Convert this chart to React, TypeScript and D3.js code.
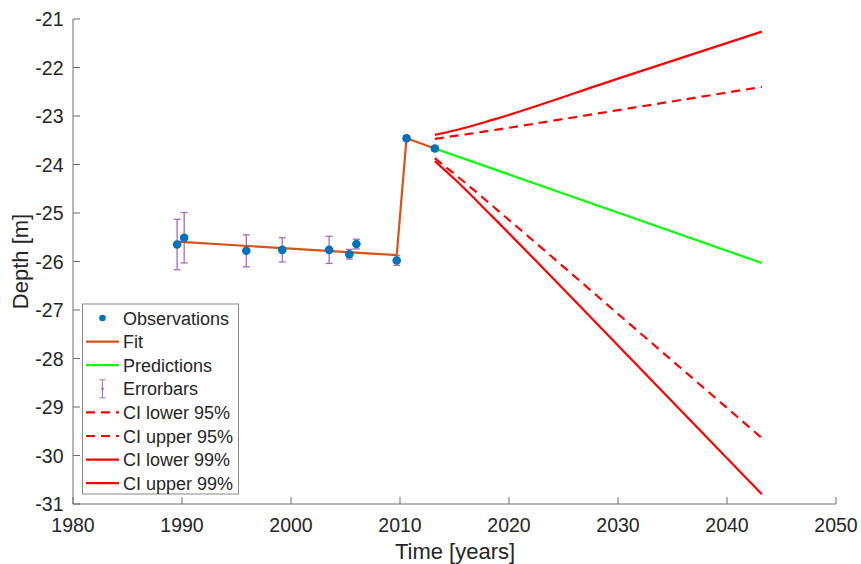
import React from "react";
import * as d3 from "d3";

const obsYears = [1989.55, 1990.2, 1995.9, 1999.2, 2003.5, 2005.35, 2006.0, 2009.7, 2010.6, 2013.2];
const obsDepth = [-25.65, -25.51, -25.78, -25.76, -25.76, -25.85, -25.64, -25.98, -23.46, -23.67];
const obsErr = [0.52, 0.52, 0.33, 0.25, 0.28, 0.1, 0.1, 0.1, 0.05, 0.05];

const fitYears = [1989.55, 2009.7, 2010.6, 2013.2];
const fitDepth = [-25.59, -25.87, -23.46, -23.67];

const predYears = [2013.2, 2043.2];
const predDepth = [-23.67, -26.03];

const ci95Years = [2013.2, 2016, 2019.2, 2030, 2043.2];
const ci95Lower = [-23.87, -24.38, -24.99, -27.08, -29.64];
const ci95Upper = [-23.47, -23.38, -23.27, -22.88, -22.4];

const ci99Years = [2013.2, 2015, 2018.5, 2030, 2043.2];
const ci99Lower = [-23.93, -24.3, -25.08, -27.73, -30.8];
const ci99Upper = [-23.39, -23.3, -23.08, -22.23, -21.26];

const xTicks = [1980, 1990, 2000, 2010, 2020, 2030, 2040, 2050];
const yTicks = [-31, -30, -29, -28, -27, -26, -25, -24, -23, -22, -21];

const legendLabels = [
  "Observations",
  "Fit",
  "Predictions",
  "Errorbars",
  "CI lower 95%",
  "CI upper 95%",
  "CI lower 99%",
  "CI upper 99%",
];

const W = 861;
const H = 564;
const L = 73, R = 836, T = 19, B = 504;
const FONT = "'Liberation Sans', Arial, Helvetica, sans-serif";
const TXT = "#262626";
const AX = "#6e6e6e";
const BLUE = "#0072BD";
const ORANGE = "#D95319";
const GREEN = "#00FF00";
const RED = "#FF0000";
const PURPLE = "#A86CC1";

export default function App() {
  const x = d3.scaleLinear().domain([1980, 2050]).range([L, R]);
  const y = d3.scaleLinear().domain([-31, -21]).range([B, T]);
  const line = d3
    .line<[number, number]>()
    .x((d) => x(d[0]))
    .y((d) => y(d[1]));
  const smooth = d3
    .line<[number, number]>()
    .x((d) => x(d[0]))
    .y((d) => y(d[1]))
    .curve(d3.curveMonotoneX);
  const zip = (a: number[], b: number[]) => a.map((v, i) => [v, b[i]] as [number, number]);

  const legX = 82.5, legY = 304, legW = 156, legH = 190;
  const rowY = (i: number) => 318 + i * 23.6;

  return (
    <svg
      width={W}
      height={H}
      style={{ position: "absolute", left: 0, top: 0, background: "#fff" }}
      fontFamily={FONT}
    >
      {/* axes */}
      <line x1={L} x2={L} y1={T} y2={B} stroke={AX} strokeWidth={1} />
      <line x1={L} x2={R} y1={B} y2={B} stroke={AX} strokeWidth={1} />
      {xTicks.map((t) => (
        <g key={"xt" + t}>
          <line x1={x(t)} x2={x(t)} y1={B} y2={B - 7} stroke={AX} />
          <text x={x(t)} y={532} fontSize={19.5} textAnchor="middle" fill={TXT}>
            {t}
          </text>
        </g>
      ))}
      {yTicks.map((t) => (
        <g key={"yt" + t}>
          <line x1={L} x2={L + 7} y1={y(t)} y2={y(t)} stroke={AX} />
          <text x={63.5} y={y(t) + 7} fontSize={19.5} textAnchor="end" fill={TXT}>
            {t}
          </text>
        </g>
      ))}
      <text x={455} y={559} fontSize={22} textAnchor="middle" fill={TXT}>
        Time [years]
      </text>
      <text
        transform={`translate(27.5,${(T + B) / 2}) rotate(-90)`}
        fontSize={22}
        textAnchor="middle"
        fill={TXT}
      >
        Depth [m]
      </text>

      {/* error bars */}
      {obsYears.map((yr, i) => {
        const cx = x(yr);
        const y1 = y(obsDepth[i] + obsErr[i]);
        const y2 = y(obsDepth[i] - obsErr[i]);
        return (
          <g key={"eb" + i} stroke={PURPLE} strokeWidth={1.3}>
            <line x1={cx} x2={cx} y1={y1} y2={y2} />
            <line x1={cx - 3.5} x2={cx + 3.5} y1={y1} y2={y1} />
            <line x1={cx - 3.5} x2={cx + 3.5} y1={y2} y2={y2} />
          </g>
        );
      })}

      {/* fit */}
      <path d={line(zip(fitYears, fitDepth)) || ""} fill="none" stroke={ORANGE} strokeWidth={2.2} />
      {/* predictions */}
      <path d={line(zip(predYears, predDepth)) || ""} fill="none" stroke={GREEN} strokeWidth={2.2} />
      {/* CI */}
      <path d={smooth(zip(ci95Years, ci95Lower)) || ""} fill="none" stroke={RED} strokeWidth={2.2} strokeDasharray="9,6" />
      <path d={smooth(zip(ci95Years, ci95Upper)) || ""} fill="none" stroke={RED} strokeWidth={2.2} strokeDasharray="9,6" />
      <path d={smooth(zip(ci99Years, ci99Lower)) || ""} fill="none" stroke={RED} strokeWidth={2.2} />
      <path d={smooth(zip(ci99Years, ci99Upper)) || ""} fill="none" stroke={RED} strokeWidth={2.2} />

      {/* observations */}
      {obsYears.map((yr, i) => (
        <circle key={"ob" + i} cx={x(yr)} cy={y(obsDepth[i])} r={4.3} fill={BLUE} />
      ))}

      {/* legend */}
      <rect x={legX} y={legY} width={legW} height={legH} fill="#fff" stroke="#8a8a8a" strokeWidth={1} />
      {legendLabels.map((lab, i) => {
        const cy = rowY(i);
        const x1 = 86, x2 = 119, xm = 102.5;
        let sym: React.ReactNode = null;
        if (i === 0) sym = <circle cx={xm} cy={cy} r={3.3} fill={BLUE} />;
        else if (i === 1) sym = <line x1={x1} x2={x2} y1={cy} y2={cy} stroke={ORANGE} strokeWidth={2.2} />;
        else if (i === 2) sym = <line x1={x1} x2={x2} y1={cy} y2={cy} stroke={GREEN} strokeWidth={2.2} />;
        else if (i === 3)
          sym = (
            <g stroke={PURPLE} strokeWidth={1}>
              <line x1={xm} x2={xm} y1={cy - 9} y2={cy + 9} />
              <line x1={xm - 3} x2={xm + 3} y1={cy - 9} y2={cy - 9} />
              <line x1={xm - 3} x2={xm + 3} y1={cy + 9} y2={cy + 9} />
              <circle cx={xm} cy={cy} r={1} fill={PURPLE} />
            </g>
          );
        else if (i === 4 || i === 5)
          sym = <line x1={x1} x2={x2} y1={cy} y2={cy} stroke={RED} strokeWidth={2.2} strokeDasharray="9,6" />;
        else sym = <line x1={x1} x2={x2} y1={cy} y2={cy} stroke={RED} strokeWidth={2.2} />;
        return (
          <g key={"lg" + i}>
            {sym}
            <text x={123} y={cy + 6.5} fontSize={18} fill={TXT}>
              {lab}
            </text>
          </g>
        );
      })}
    </svg>
  );
}
